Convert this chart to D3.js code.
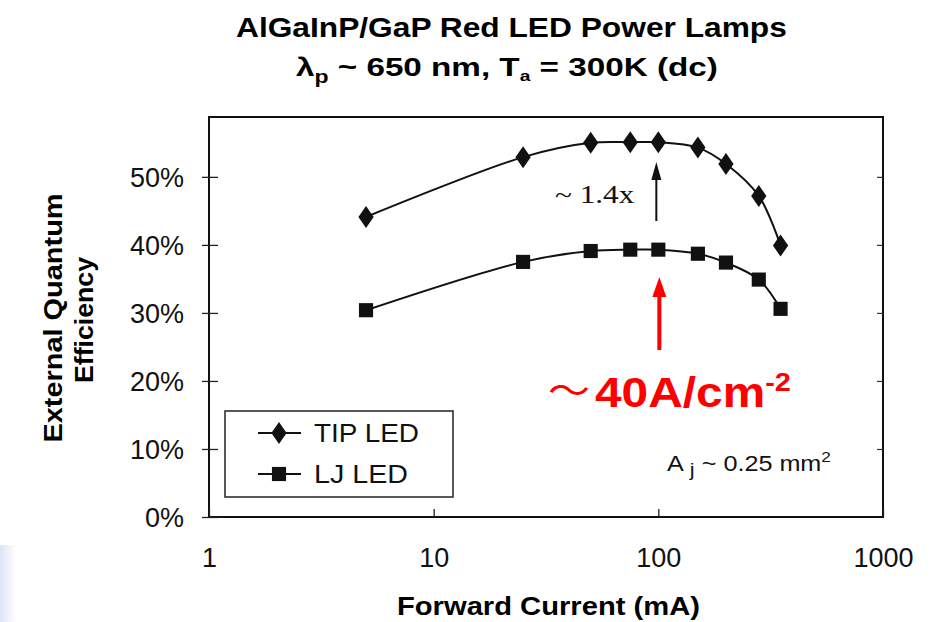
<!DOCTYPE html>
<html>
<head>
<meta charset="utf-8">
<script src="https://cdn.jsdelivr.net/npm/d3@7"></script>
<style>
  body { margin: 0; background: #fff; }
  svg text { font-family: "Liberation Sans", Arial, sans-serif; }
</style>
</head>
<body>
<div id="chart"></div>
<script>
// data
var currents = [5, 25, 50, 75, 100, 150, 200, 280, 350];
var tipEqe = [0.441, 0.529, 0.550, 0.551, 0.551, 0.543, 0.519, 0.472, 0.399];
var ljEqe = [0.304, 0.375, 0.391, 0.393, 0.393, 0.387, 0.374, 0.349, 0.306];
var xTicks = [1, 10, 100, 1000];
var yTicks = [0, 0.1, 0.2, 0.3, 0.4, 0.5];

var svgWidth = 947;
var svgHeight = 622;

var svg = d3.select("#chart")
  .append("svg")
  .attr("width", svgWidth)
  .attr("height", svgHeight);

// stretch a text horizontally so it covers the given width, left edge fixed
function stretch(sel, width) {
  var box = sel.node().getBBox();
  var sx = width / box.width;
  sel.attr("transform", "translate(" + box.x + ",0) scale(" + sx + ",1) translate(" + (-box.x) + ",0)");
  return sel;
}

// faint slide background in the lower left corner
var defs = svg.append("defs");
var grad = defs.append("linearGradient")
  .attr("id", "corner")
  .attr("x1", 0).attr("x2", 1).attr("y1", 0).attr("y2", 0);
grad.append("stop").attr("offset", "0%").attr("stop-color", "#dfe3f6");
grad.append("stop").attr("offset", "100%").attr("stop-color", "#ffffff");
svg.append("rect")
  .attr("x", 0).attr("y", 545)
  .attr("width", 16).attr("height", 77)
  .attr("fill", "url(#corner)");

var x = d3.scaleLog().domain([1, 1000]).range([209, 883]);
var y = d3.scaleLinear().domain([0, 0.588]).range([517, 117]);

// Title
var t1 = svg.append("text")
  .attr("x", 236).attr("y", 37)
  .style("font-size", "28px").style("font-weight", "bold")
  .text("AlGaInP/GaP Red LED Power Lamps");
stretch(t1, 551);

var sub = svg.append("text")
  .attr("x", 296).attr("y", 76)
  .style("font-size", "26px").style("font-weight", "bold");
sub.append("tspan").text("\u03bb");
sub.append("tspan").attr("dy", 7).style("font-size", "18px").text("p");
sub.append("tspan").attr("dy", -7).text(" ~ 650 nm, T");
sub.append("tspan").attr("dy", 5).style("font-size", "15px").text("a");
sub.append("tspan").attr("dy", -5).text(" = 300K (dc)");
stretch(sub, 422);

// Frame
svg.append("rect")
  .attr("x", x(1)).attr("y", y(0.588))
  .attr("width", x(1000) - x(1))
  .attr("height", y(0) - y(0.588))
  .attr("fill", "none")
  .attr("stroke", "#111")
  .attr("stroke-width", 2);

// Axes
var leftAxis = d3.axisLeft(y)
  .tickValues(yTicks)
  .tickFormat(d3.format(".0%"))
  .tickSize(7)
  .tickPadding(18);

var gy = svg.append("g")
  .attr("transform", "translate(" + x(1) + ",0)")
  .call(leftAxis);
gy.select(".domain").remove();
gy.selectAll("line").attr("x1", 9).attr("stroke", "#222").attr("stroke-width", 1.3);
gy.selectAll("text").style("font-size", "27px").attr("fill", "#111").attr("dy", "0.36em");

var gyr = svg.append("g")
  .attr("transform", "translate(" + x(1000) + ",0)")
  .call(d3.axisRight(y).tickValues(yTicks.slice(1)).tickSize(-6).tickFormat(""));
gyr.select(".domain").remove();
gyr.selectAll("line").attr("stroke", "#333").attr("stroke-width", 1.2);

var bottomAxis = d3.axisBottom(x)
  .tickValues(xTicks)
  .tickFormat(d3.format("d"))
  .tickSize(-8)
  .tickPadding(31);

var gx = svg.append("g")
  .attr("transform", "translate(0," + y(0) + ")")
  .call(bottomAxis);
gx.select(".domain").remove();
gx.selectAll("line").attr("stroke", "#222").attr("stroke-width", 1.3);
gx.selectAll("text").style("font-size", "27px").attr("fill", "#111");

// Axis titles
var xLab = svg.append("text")
  .attr("x", 397).attr("y", 615)
  .style("font-size", "25px").style("font-weight", "bold")
  .text("Forward Current (mA)");
stretch(xLab, 303);

svg.append("text")
  .attr("transform", "translate(62,318) rotate(-90)")
  .attr("text-anchor", "middle")
  .attr("textLength", 249).attr("lengthAdjust", "spacingAndGlyphs")
  .style("font-size", "25px").style("font-weight", "bold")
  .text("External Quantum");
svg.append("text")
  .attr("transform", "translate(93,320) rotate(-90)")
  .attr("text-anchor", "middle")
  .attr("textLength", 126).attr("lengthAdjust", "spacingAndGlyphs")
  .style("font-size", "25px").style("font-weight", "bold")
  .text("Efficiency");

// Series
var line = d3.line()
  .x(function(d) { return x(d[0]); })
  .y(function(d) { return y(d[1]); })
  .curve(d3.curveCatmullRom.alpha(0.5));

var tipData = currents.map(function(c, i) { return [c, tipEqe[i]]; });
var ljData = currents.map(function(c, i) { return [c, ljEqe[i]]; });

svg.append("path").datum(tipData)
  .attr("d", line).attr("fill", "none")
  .attr("stroke", "#111").attr("stroke-width", 2);
svg.append("path").datum(ljData)
  .attr("d", line).attr("fill", "none")
  .attr("stroke", "#111").attr("stroke-width", 2);

var diamond = d3.symbol().type(d3.symbolDiamond).size(140);
var square = d3.symbol().type(d3.symbolSquare).size(200);

svg.selectAll(".tip")
  .data(tipData).enter()
  .append("path")
  .attr("class", "tip")
  .attr("transform", function(d) { return "translate(" + x(d[0]) + "," + y(d[1]) + ") scale(1.2,1)"; })
  .attr("d", diamond)
  .attr("fill", "#111");

svg.selectAll(".lj")
  .data(ljData).enter()
  .append("path")
  .attr("class", "lj")
  .attr("transform", function(d) { return "translate(" + x(d[0]) + "," + y(d[1]) + ")"; })
  .attr("d", square)
  .attr("fill", "#111");

// Legend
svg.append("rect")
  .attr("x", 225).attr("y", 411)
  .attr("width", 228).attr("height", 86)
  .attr("fill", "#fff")
  .attr("stroke", "#222").attr("stroke-width", 1.5);

var legendItems = [["TIP LED", diamond, 433, 105, "scale(1.2,1)"], ["LJ LED", square, 474, 94, ""]];
legendItems.forEach(function(item) {
  svg.append("line")
    .attr("x1", 258).attr("x2", 301)
    .attr("y1", item[2]).attr("y2", item[2])
    .attr("stroke", "#111").attr("stroke-width", 2);
  svg.append("path")
    .attr("transform", "translate(279," + item[2] + ") " + item[4])
    .attr("d", item[1])
    .attr("fill", "#111");
  var lt = svg.append("text")
    .attr("x", 314).attr("y", item[2] + 9)
    .style("font-size", "25px")
    .attr("fill", "#111")
    .text(item[0]);
  stretch(lt, item[3]);
});

// ~1.4x annotation with black arrow
var note = svg.append("text")
  .attr("x", 555).attr("y", 203)
  .style("font-family", "'Liberation Serif', 'Times New Roman', serif")
  .style("font-size", "25px")
  .attr("fill", "#111")
  .text("~ 1.4x");
stretch(note, 80);

svg.append("line")
  .attr("x1", x(100) - 2).attr("x2", x(100) - 2)
  .attr("y1", 221).attr("y2", 178)
  .attr("stroke", "#111").attr("stroke-width", 2);
svg.append("path")
  .attr("d", "M" + (x(100) - 7) + ",180 L" + (x(100) - 2) + ",162 L" + (x(100) + 3) + ",180 Z")
  .attr("fill", "#111");

// red arrow + label
var ax = x(100) + 1;
svg.append("line")
  .attr("x1", ax).attr("x2", ax)
  .attr("y1", 350).attr("y2", 295)
  .attr("stroke", "#ff0000").attr("stroke-width", 4);
svg.append("path")
  .attr("d", "M" + (ax - 7) + ",297 L" + ax + ",277 L" + (ax + 7) + ",297 Z")
  .attr("fill", "#ff0000");

var tilde = svg.append("text")
  .attr("x", 548).attr("y", 404)
  .attr("fill", "#ff0000")
  .style("font-size", "36px")
  .style("font-family", "'Noto Sans CJK JP', sans-serif")
  .text("\uff5e");
stretch(tilde, 42);

var red = svg.append("text")
  .attr("x", 595).attr("y", 407)
  .attr("fill", "#ff0000")
  .style("font-size", "43px").style("font-weight", "bold");
red.append("tspan").text("40A/cm");
red.append("tspan").attr("dy", -16).style("font-size", "26px").text("-2");
stretch(red, 196);

// junction area note
var aj = svg.append("text")
  .attr("x", 667).attr("y", 471)
  .attr("fill", "#111")
  .style("font-size", "22px");
aj.append("tspan").text("A");
aj.append("tspan").attr("dy", 5).style("font-size", "19px").text(" j");
aj.append("tspan").attr("dy", -5).text(" ~ 0.25 mm");
aj.append("tspan").attr("dy", -9).style("font-size", "15px").text("2");
stretch(aj, 164);
</script>
</body>
</html>
